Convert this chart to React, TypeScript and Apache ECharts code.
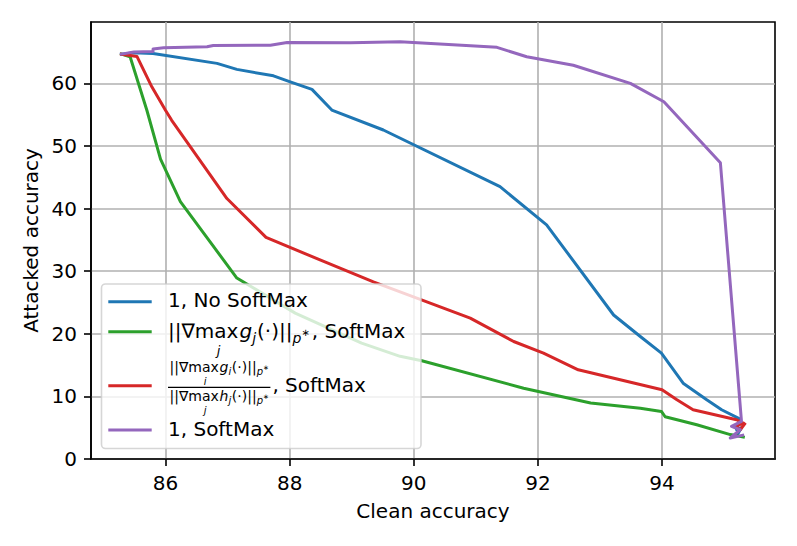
import React, { useEffect, useRef } from "react";
import * as echarts from "echarts";

const xTicks = [86, 88, 90, 92, 94];
const yTicks = [0, 10, 20, 30, 40, 50, 60];

const seriesNames = [
  "1, No SoftMax",
  "||∇max_j g_j(·)||_p*, SoftMax",
  "||∇max_i g_i(·)||_p* / ||∇max_j h_j(·)||_p*, SoftMax",
  "1, SoftMax",
];
const colors = ["#1f77b4", "#2ca02c", "#d62728", "#9467bd"];

const noSoftmaxClean = [85.29, 85.49, 85.8, 86.83, 87.15, 87.74, 88.01, 88.36, 88.68, 89.51, 91.39, 92.14, 93.22, 93.65, 93.99, 94.34, 94.72, 94.96, 95.26, 95.2, 95.28, 95.22];
const noSoftmaxAttacked = [64.67, 64.9, 64.78, 63.19, 62.23, 61.2, 60.25, 59.04, 55.74, 52.55, 43.5, 37.4, 23.0, 19.56, 16.9, 12.1, 9.46, 7.87, 6.38, 4.7, 5.0, 4.0];

const gradClean = [85.29, 85.43, 85.7, 85.92, 86.24, 87.15, 88.09, 89.16, 89.78, 90.13, 91.77, 92.85, 93.65, 93.99, 94.05, 94.29, 94.56, 95.1, 95.31];
const gradAttacked = [64.67, 64.24, 55.7, 47.9, 41.1, 28.9, 23.3, 18.5, 16.4, 15.7, 11.3, 8.94, 8.1, 7.6, 6.75, 6.16, 5.47, 3.9, 3.5];

const ratioClean = [85.29, 85.54, 85.78, 86.0, 86.1, 86.99, 87.62, 88.49, 89.35, 90.91, 91.61, 92.09, 92.65, 94.0, 94.24, 94.5, 95.2, 95.31, 95.18, 95.26, 95.33];
const ratioAttacked = [64.67, 64.3, 59.45, 55.7, 54.1, 41.6, 35.4, 31.8, 28.3, 22.5, 18.77, 16.9, 14.25, 11.06, 9.46, 7.87, 6.27, 5.74, 5.2, 4.67, 5.6];

const softmaxClean = [85.29, 85.49, 85.8, 85.8, 85.97, 86.67, 86.77, 87.69, 87.96, 88.98, 89.78, 91.34, 91.82, 92.57, 93.49, 94.03, 94.94, 95.28, 95.12, 95.26, 95.1, 95.3];
const softmaxAttacked = [64.67, 65.0, 65.1, 65.5, 65.68, 65.84, 66.06, 66.1, 66.54, 66.5, 66.65, 65.75, 64.25, 62.9, 60.0, 57.06, 47.33, 6.0, 5.2, 4.67, 3.35, 3.8];

const FONT = '"DejaVu Sans"';

const zip = (xs: number[], ys: number[]) => xs.map((x, i) => [x, ys[i]]);

type Seg = { t: string; s: number; it?: boolean; dy?: number; gap?: number; under?: string; us?: number };

let measureCtx: CanvasRenderingContext2D | null = null;
function measure(t: string, s: number, it?: boolean) {
  if (!measureCtx) {
    const c = document.createElement("canvas");
    measureCtx = c.getContext("2d");
  }
  if (!measureCtx) return t.length * s * 0.6;
  measureCtx.font = `${it ? "italic " : ""}${s}px ${FONT}`;
  return measureCtx.measureText(t).width;
}

function textEl(t: string, x: number, y: number, s: number, it?: boolean) {
  return {
    type: "text",
    x,
    y,
    z: 110,
    silent: true,
    style: {
      text: t,
      fontSize: s,
      fontFamily: FONT,
      fontStyle: it ? "italic" : "normal",
      fill: "#000",
      align: "left",
      verticalAlign: "middle",
    },
  };
}

function segWidth(segs: Seg[]) {
  let w = 0;
  for (const g of segs) w += measure(g.t, g.s, g.it) + (g.gap || 0);
  return w;
}

function layoutSegs(segs: Seg[], x0: number, base: number) {
  const els: any[] = [];
  let x = x0;
  for (const g of segs) {
    const w = measure(g.t, g.s, g.it);
    x += g.gap || 0;
    const cy = base + (g.dy || 0) - 0.35 * g.s;
    els.push(textEl(g.t, x, cy, g.s, g.it));
    if (g.under) {
      const us = g.us || g.s * 0.7;
      const uw = measure(g.under, us, true);
      // index set beneath the operator, below the operator's text box
      const ub = base + 0.236 * g.s + 0.93 * us + 0.4;
      els.push(textEl(g.under, x + w / 2 - uw / 2 + us * 0.15, ub - 0.35 * us, us, true));
    }
    x += w;
  }
  return { els, right: x };
}

function normSegs(big: number, sub: number, subsub: number, letter: string, idx: string, usz: number): Seg[] {
  return [
    { t: "||∇", s: big },
    { t: "max", s: big, under: idx, us: usz },
    { t: letter, s: big, it: true, gap: big * 0.05 },
    { t: idx, s: sub, it: true, dy: big * 0.25 },
    { t: "(·)||", s: big, gap: big * 0.05 },
    { t: "p", s: sub, it: true, dy: big * 0.25 },
    { t: "∗", s: subsub, dy: -big * 0.1 },
  ];
}

function buildLegend() {
  const els: any[] = [];
  els.push({
    type: "rect",
    z: 100,
    silent: true,
    shape: { x: 101.5, y: 284, width: 319.5, height: 164.5, r: 4 },
    style: { fill: "rgba(255,255,255,0.8)", stroke: "rgba(204,204,204,0.8)", lineWidth: 1.6 },
  });
  const handleY = [301.7, 331.7, 385.7, 430];
  handleY.forEach((y, i) => {
    els.push({
      type: "line",
      z: 105,
      silent: true,
      shape: { x1: 108.3, y1: y, x2: 151.7, y2: y },
      style: { stroke: colors[i], lineWidth: 3 },
    });
  });
  const tx = 168;
  // entry 1
  els.push(...layoutSegs([{ t: seriesNames[0], s: 20 }], tx, 307.3).els);
  // entry 2
  const e2 = normSegs(20, 14, 10, "g", "j", 13);
  e2.push({ t: ", SoftMax", s: 20, gap: 2 });
  els.push(...layoutSegs(e2, tx, 337.5).els);
  // entry 3 fraction
  const num = normSegs(14, 10, 7, "g", "i", 10);
  const den = normSegs(14, 10, 7, "h", "j", 10);
  const wn = segWidth(num);
  const wd = segWidth(den);
  const bw = Math.max(wn, wd) + 3;
  els.push(...layoutSegs(num, tx + (bw - wn) / 2, 371.5).els);
  els.push(...layoutSegs(den, tx + (bw - wd) / 2, 400.5).els);
  els.push({
    type: "line",
    z: 110,
    silent: true,
    shape: { x1: tx, y1: 387.3, x2: tx + bw, y2: 387.3 },
    style: { stroke: "#000", lineWidth: 1.2 },
  });
  els.push(...layoutSegs([{ t: ", SoftMax", s: 20 }], tx + bw + 2, 391.7).els);
  // entry 4
  els.push(...layoutSegs([{ t: seriesNames[3], s: 20 }], tx, 435.6).els);
  return els;
}

export default function App() {
  const ref = useRef<HTMLDivElement>(null);
  useEffect(() => {
    if (!ref.current) return;
    const chart = echarts.init(ref.current, undefined, { renderer: "svg" });
    const datasets = [
      zip(noSoftmaxClean, noSoftmaxAttacked),
      zip(gradClean, gradAttacked),
      zip(ratioClean, ratioAttacked),
      zip(softmaxClean, softmaxAttacked),
    ];
    const axisCommon = {
      type: "value",
      nameLocation: "middle",
      nameTextStyle: { fontSize: 20, color: "#000", fontFamily: FONT },
      axisLine: { show: true, onZero: false, lineStyle: { color: "#000", width: 1.6 } },
      splitLine: { show: true, lineStyle: { color: "#b0b0b0", width: 1.6 } },
    };
    chart.setOption({
      animation: false,
      backgroundColor: "#ffffff",
      grid: {
        left: 91,
        top: 22,
        width: 684,
        height: 437,
        show: true,
        borderColor: "#000",
        borderWidth: 1.6,
        backgroundColor: "transparent",
      },
      xAxis: {
        ...axisCommon,
        min: 84.8,
        max: 95.82,
        name: "Clean accuracy",
        nameGap: 42,
        axisTick: { show: true, length: 7, lineStyle: { color: "#000", width: 1.6 }, customValues: xTicks },
        axisLabel: { customValues: xTicks, fontSize: 20, color: "#000", fontFamily: FONT, margin: 14 },
      },
      yAxis: {
        ...axisCommon,
        min: 0,
        max: 69.8,
        name: "Attacked accuracy",
        nameGap: 48,
        axisTick: { show: true, length: 7, lineStyle: { color: "#000", width: 1.6 }, customValues: yTicks },
        axisLabel: { customValues: yTicks, fontSize: 20, color: "#000", fontFamily: FONT, margin: 14 },
      },
      series: datasets.map((d, i) => ({
        type: "line",
        name: seriesNames[i],
        data: d,
        symbol: "none",
        showSymbol: false,
        smooth: false,
        z: 2 + i,
        lineStyle: { width: 3, color: colors[i], join: "round", cap: "square" },
        itemStyle: { color: colors[i] },
      })),
      graphic: buildLegend(),
    });
    return () => chart.dispose();
  }, []);
  return (
    <div
      ref={ref}
      style={{ position: "fixed", left: 0, top: 0, width: 797, height: 546, background: "#fff" }}
    />
  );
}
